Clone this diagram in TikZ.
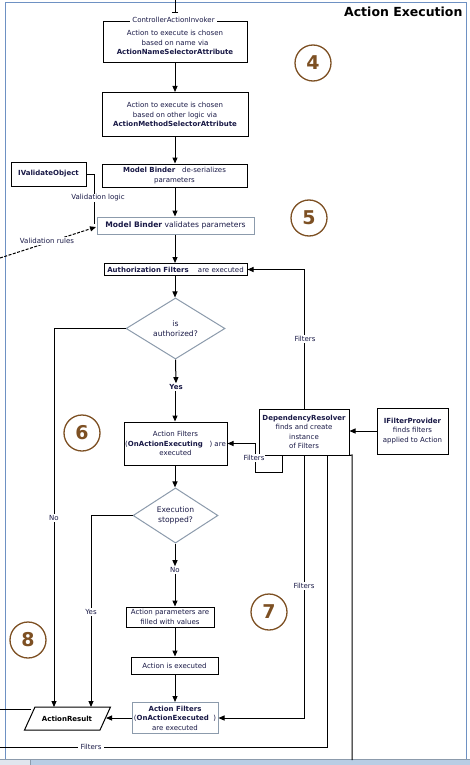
\documentclass[tikz,border=0pt]{standalone}
\usepackage{fontspec}
\setmainfont{DejaVu Sans}
\usetikzlibrary{arrows.meta,shapes.geometric}
\definecolor{txt}{RGB}{25,25,70}
\definecolor{framec}{RGB}{110,145,195}
\definecolor{gbord}{RGB}{140,155,172}
\definecolor{numc}{RGB}{125,80,35}
\definecolor{barc}{RGB}{185,205,228}
\definecolor{tabc}{RGB}{225,230,238}
\newcommand\fs{\fontsize{7}{9.5}\selectfont}
\newcommand\fm{\fontsize{7.6}{10.5}\selectfont}
\begin{document}
\begin{tikzpicture}[x=1pt,y=-1pt,
  box/.style={draw=black, line width=1pt, fill=white, inner sep=0pt, align=center, font=\fs, text=txt},
  gbox/.style={box, draw=gbord},
  dia/.style={diamond, draw=gbord, line width=1pt, fill=white, inner sep=0pt, align=center, font=\fm, text=txt},
  lbl/.style={fill=white, inner sep=1pt, font=\fs, text=txt},
  arr/.style={line width=1pt, -{Triangle[length=6pt,width=5pt]}},
  ln/.style={line width=1pt},
  numcirc/.style={circle, draw=numc, line width=1.3pt, minimum size=36pt, inner sep=0pt, text=numc, font=\bfseries\fontsize{19}{19}\selectfont}
]
\useasboundingbox (0,0) rectangle (470,765);
% frame and bottom bar
\draw[framec, line width=1pt] (5,760) -- (5,3) -- (466,3) -- (466,760);
\fill[barc] (0,759.5) rectangle (470,765);
\draw[gbord, line width=0.8pt] (0,759.5) -- (470,759.5);
\fill[tabc] (0,760) rectangle (30,765);
\draw[gbord, line width=0.8pt] (30,760) -- (30,765);

\node[anchor=east, font=\bfseries\fontsize{12.5}{14}\selectfont] (title) at (466,12) {Action Execution};

% boxes
\node[box, minimum width=144pt, minimum height=41pt] (b1) at (175,42.5)
  {Action to execute is chosen\\based on name via\\\textbf{ActionNameSelectorAttribute}};
\node[box, minimum width=146pt, minimum height=44pt] (b2) at (175,114.5)
  {Action to execute is chosen\\based on other logic via\\\textbf{ActionMethodSelectorAttribute}};
\node[box, minimum width=145pt, minimum height=23pt] (b3) at (174.5,175.5)
  {\textbf{Model Binder}\ \ \ de-serializes\\parameters};
\node[gbox, minimum width=157pt, minimum height=17pt, font=\fm] (b4) at (175.5,225.5)
  {\textbf{Model Binder} validates parameters};
\node[box, minimum width=75pt, minimum height=24pt] (ivo) at (48.5,174)
  {\textbf{IValidateObject}};
\node[box, minimum width=143pt, minimum height=12pt] (b5) at (175.5,269.5)
  {\textbf{Authorization Filters}\quad\ are executed};
\node[dia, minimum width=99pt, minimum height=49pt] (d1) at (175.5,328.5)
  {is\\authorized?};
\node[lbl, font=\fs\bfseries] (yes1) at (176,387) {Yes};
\node[box, minimum width=103pt, minimum height=43pt] (b6) at (175.5,443.5)
  {Action Filters\\(\textbf{OnActionExecuting}\ \ \ ) are\\executed};
\node[dia, minimum width=85pt, minimum height=43pt] (d2) at (175.5,515.5)
  {Execution\\stopped?};
\node[lbl] (no2) at (175,570) {No};
\node[box, minimum width=88pt, minimum height=20pt] (b7) at (170,617)
  {Action parameters are\\filled with values};
\node[box, minimum width=87pt, minimum height=17pt] (b8) at (174.5,665.5)
  {Action is executed};
\node[gbox, minimum width=86pt, minimum height=31pt] (b9) at (175,718)
  {\textbf{Action Filters}\\(\textbf{OnActionExecuted}\ \ )\\are executed};
\node[box, minimum width=90pt, minimum height=46pt] (dr) at (304,432)
  {\textbf{DependencyResolver}\\finds and create\\instance\\of Filters};
\node[box, minimum width=71pt, minimum height=46pt] (ifp) at (412.5,431)
  {\textbf{IFilterProvider}\\finds filters\\applied to Action};

% ActionResult parallelogram
\draw[ln, fill=white] (35,707) -- (110.5,707) -- (100,730) -- (24.5,730) -- cycle;
\node[font=\fs\bfseries] (ar) at (67,718.5) {ActionResult};
\coordinate (artop) at (67,707);
\coordinate (arR) at (106,718);
\coordinate (arL) at (31,709);

% circled numbers
\node[numcirc] (c4) at (313,63) {4};
\node[numcirc] (c5) at (309,218) {5};
\node[numcirc] (c6) at (82,433) {6};
\node[numcirc] (c7) at (269,612) {7};
\node[numcirc] (c8) at (28,640) {8};

% top entry
\coordinate (topin) at (175,0);
\coordinate (topbar) at (175,13);
\draw[ln, -{Bar[width=6pt]}] (topin) -- (topbar);

% main flow
\draw[arr] (b1.south) -- (b2.north);
\draw[arr] (b2.south) -- (b2.south |- b3.north);
\draw[arr] (b3.south -| b2.south) -- (b2.south |- b4.north);
\draw[arr] (b4.south -| b2.south) -- (b2.south |- b5.north);
\draw[arr] (b5.south -| b2.south) -- (b2.south |- d1.north);
\draw[arr] (d1.south) -- (yes1.north);
\draw[arr] (yes1.south -| b2.south) -- (b2.south |- b6.north);
\draw[arr] (b6.south -| b2.south) -- (b2.south |- d2.north);
\draw[arr] (d2.south -| b2.south) -- (no2.north -| b2.south);
\draw[arr] (no2.south -| b2.south) -- (b2.south |- b7.north);
\draw[arr] (b7.south -| b2.south) -- (b2.south |- b8.north);
\draw[arr] (b8.south -| b2.south) -- (b2.south |- b9.north);
\draw[arr] (b9.west) -- (arR);
\coordinate (noX) at (54,0);
\coordinate (yesX) at (91,0);
\draw[arr] (d1.west) -| (noX |- artop);
\draw[arr] (d2.west) -| (yesX |- artop);
\coordinate (leftin) at (0,709);
\draw[ln] (leftin) -- (arL);

% validation
\coordinate (vl) at (94,174);
\coordinate (vl2) at (94,224);
\draw[ln] (ivo.east) -- (vl) -- (vl2);
\coordinate (vr) at (0,258);
\coordinate (vrend) at (96,227);
\draw[arr, dash pattern=on 3pt off 1.5pt] (vr) -- (vrend);

% dependency resolver connectors
\draw[arr] (ifp.west) -- (ifp.west -| dr.east);
\draw[arr] (dr.north) |- (b5.east);
\coordinate (lpA) at (282,472);
\coordinate (lpB) at (255,472);
\draw[arr] (dr.south -| lpA) -- (lpA) -- (lpB) |- (b6.east);
\draw[arr] (dr.south) |- (b9.east);
\coordinate (fbot) at (0,747);
\coordinate (fx) at (327,0);
\draw[ln] (dr.south -| fx) |- (fbot);
\coordinate (rx) at (352,455);
\coordinate (rxb) at (352,760);
\draw[ln] (dr.south east) -- (rx) -- (rxb);

% labels on lines
\node[lbl, inner sep=2pt] (cai) at (173.5,20) {ControllerActionInvoker};
\node[lbl] (vlogic) at (98,198) {Validation logic};
\node[lbl] (vrules) at (47,241) {Validation rules};
\node[lbl] (nolab) at (54,518) {No};
\node[lbl] (yeslab) at (91,612) {Yes};
\node[lbl] (f1) at (305,339) {Filters};
\node[lbl] (f2) at (254,458) {Filters};
\node[lbl] (f3) at (304,586) {Filters};
\node[lbl, inner sep=3pt] (f4) at (91,747) {Filters};
\end{tikzpicture}
\end{document}
